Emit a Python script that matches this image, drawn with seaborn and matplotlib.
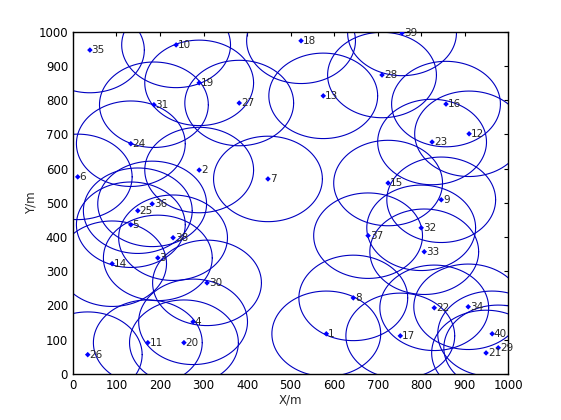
import numpy as np
import pandas as pd
import matplotlib
matplotlib.use('Agg')
import matplotlib.pyplot as plt
import seaborn as sns

# node positions
node_id = list(range(1, 41))
x_pos = [582, 290, 195, 276, 133, 11, 448, 644, 846, 237,
         172, 910, 575, 90, 724, 857, 752, 524, 290, 255,
         949, 830, 825, 133, 149, 34, 382, 710, 977, 308,
         186, 800, 807, 908, 39, 182, 678, 230, 756, 963]
y_pos = [117, 596, 339, 152, 436, 576, 570, 222, 509, 962,
         91, 702, 813, 322, 558, 789, 111, 974, 851, 91,
         61, 193, 678, 673, 477, 56, 792, 874, 76, 266,
         787, 427, 357, 196, 947, 497, 404, 398, 997, 117]
radius = 125

df = pd.DataFrame({'id': node_id, 'x': x_pos, 'y': y_pos})

sns.set_style('white')
fig = plt.figure(figsize=(5.61, 4.2), dpi=100)
ax = fig.add_axes([0.130, 0.110, 0.776, 0.814])

# coverage circles
theta = np.linspace(0, 2 * np.pi, 200)
for _, r in df.iterrows():
    ax.plot(r.x + radius * np.cos(theta), r.y + radius * np.sin(theta),
            color='#0000c0', lw=0.8, zorder=1)

sns.scatterplot(data=df, x='x', y='y', ax=ax, color='#0000ff', marker='D',
                s=8, edgecolor='none', zorder=3)
for _, r in df.iterrows():
    ax.text(r.x + 4, r.y, str(r.id), fontsize=7.5, va='center', ha='left', zorder=4)

ax.set_xlim(0, 1000)
ax.set_ylim(0, 1000)
ax.set_xticks(range(0, 1001, 100))
ax.set_yticks(range(0, 1001, 100))
ax.tick_params(labelsize=8.5, direction='in', length=3, top=True, right=True,
               labeltop=False, labelright=False, colors='black')
ax.set_xlabel('X/m', fontsize=8.5, labelpad=1)
ax.set_ylabel('Y/m', fontsize=8.5, labelpad=1)
for s in ax.spines.values():
    s.set_color('black')
    s.set_linewidth(1.0)

fig.savefig('out.png', dpi=100)
